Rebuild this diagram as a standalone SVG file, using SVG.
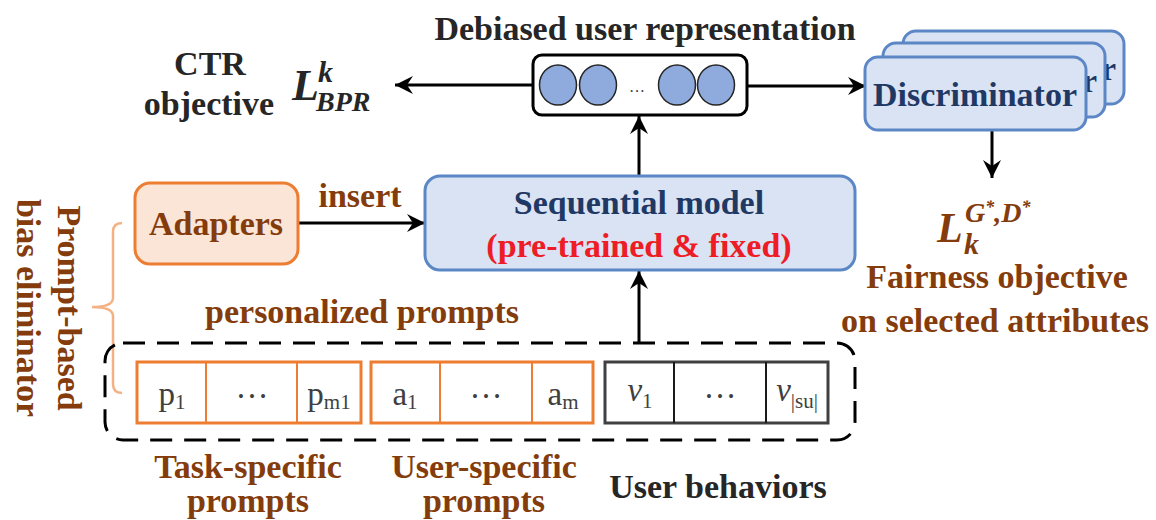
<svg xmlns="http://www.w3.org/2000/svg" width="1156" height="520" viewBox="0 0 1156 520">
  <style>
    text { font-family: "Liberation Serif", "Times New Roman", serif; }
    .b { font-weight: bold; font-size: 34px; }
    .dark { fill: #262626; }
    .brown { fill: #843c0c; }
    .navy { fill: #1f3864; }
    .red { fill: #ee1c25; }
    .mid { text-anchor: middle; }
    .bluebox { fill: #dae3f3; stroke: #5b87c6; stroke-width: 3; }
    .orangebox { fill: #fbe5d6; stroke: #ed7d31; stroke-width: 3; }
    .conn { stroke: #000; stroke-width: 3; fill: none; marker-end: url(#arrow); }
    .cellO { fill: #fff; stroke: #ed7d31; stroke-width: 3; }
    .divO { stroke: #ed7d31; stroke-width: 2; }
    .cellK { fill: #fff; stroke: #404040; stroke-width: 3; }
    .divK { stroke: #1a1a1a; stroke-width: 2; }
    .cell { font-size: 33px; fill: #404040; text-anchor: middle; }
    .sub { font-size: 21px; }
    .math { font-weight: bold; font-style: italic; }
  </style>
  <defs>
    <marker id="arrow" markerUnits="userSpaceOnUse" markerWidth="20" markerHeight="20" refX="18" refY="10" orient="auto">
      <path d="M0,1 L18,10 L0,19 L6,10 Z" fill="#000"/>
    </marker>
  </defs>

  <!-- connectors -->
  <g id="connectors">
    <line class="conn" x1="533" y1="85" x2="395" y2="85"/>
    <line class="conn" x1="747" y1="86" x2="866" y2="86"/>
    <line class="conn" x1="639" y1="176" x2="639" y2="116"/>
    <line class="conn" x1="639" y1="343" x2="639" y2="271"/>
    <line class="conn" x1="298" y1="223" x2="425" y2="223"/>
    <line class="conn" x1="992" y1="130" x2="992" y2="178"/>
  </g>

  <!-- debiased user representation -->
  <g id="representation">
    <text class="b dark mid" x="645" y="40">Debiased user representation</text>
    <rect x="533" y="55" width="214" height="60" rx="9" fill="#fff" stroke="#000" stroke-width="3"/>
    <g fill="#8faadc" stroke="#262626" stroke-width="1.5">
      <ellipse cx="558" cy="85" rx="18.5" ry="20"/>
      <ellipse cx="598" cy="85" rx="18.5" ry="20"/>
      <ellipse cx="677" cy="85" rx="18.5" ry="20"/>
      <ellipse cx="716" cy="85" rx="18.5" ry="20"/>
    </g>
    <text x="637" y="92" font-size="16" fill="#404040" text-anchor="middle">…</text>
  </g>

  <!-- CTR objective -->
  <g id="ctr-objective">
    <text class="b dark mid" x="210" y="75">CTR</text>
    <text class="b dark mid" x="209" y="115">objective</text>
    <text class="math dark" font-size="44"><tspan x="292" y="100">L</tspan><tspan x="318" y="82" font-size="30">k</tspan><tspan x="316" y="111" font-size="28">BPR</tspan></text>
  </g>

  <!-- discriminators (stacked; only the last letter of the rear labels shows) -->
  <g id="discriminator">
    <rect class="bluebox" x="903" y="31" width="221" height="73" rx="13"/>
    <text class="b navy" x="1116" y="80" text-anchor="end">r</text>
    <rect class="bluebox" x="883" y="43" width="222" height="74" rx="13"/>
    <text class="b navy" x="1097" y="92" text-anchor="end">r</text>
    <rect class="bluebox" x="865" y="57" width="221" height="73" rx="13"/>
    <text class="b navy mid" x="975" y="106">Discriminator</text>
  </g>

  <!-- fairness objective -->
  <g id="fairness-objective">
    <text class="math brown" font-size="42"><tspan x="937" y="242">L</tspan><tspan x="965" y="222" font-size="28">G</tspan><tspan font-size="18" dy="-9">*</tspan><tspan font-size="28" dy="9">,D</tspan><tspan font-size="18" dy="-9">*</tspan><tspan x="964" y="254" font-size="30">k</tspan></text>
    <text class="b brown mid" x="997" y="288">Fairness objective</text>
    <text class="b brown mid" x="995" y="332">on selected attributes</text>
  </g>

  <!-- sequential model -->
  <g id="sequential-model">
    <rect class="bluebox" x="425" y="176" width="430" height="94" rx="15"/>
    <text class="b navy mid" x="639" y="214">Sequential model</text>
    <text class="b red mid" x="639" y="257">(pre-trained &amp; fixed)</text>
  </g>

  <!-- adapters -->
  <g id="adapters">
    <rect class="orangebox" x="135" y="183" width="163" height="81" rx="15"/>
    <text class="b brown mid" x="216" y="235">Adapters</text>
    <text class="b brown mid" x="360" y="207">insert</text>
  </g>

  <!-- prompt-based bias eliminator brace and label -->
  <g id="bias-eliminator">
    <path d="M122,223 Q113,223 113,232 L113,298 Q113,307 92,307 Q113,307 113,316 L113,384 Q113,393 122,393" fill="none" stroke="#f4b183" stroke-width="2.5"/>
    <g transform="translate(0,308) rotate(90)">
      <text class="b brown mid" x="0" y="-58">Prompt-based</text>
      <text class="b brown mid" x="0" y="-17">bias eliminator</text>
    </g>
  </g>

  <!-- input sequence -->
  <g id="input-sequence">
    <text class="b brown mid" x="362" y="323">personalized prompts</text>
    <rect x="105" y="343" width="750" height="97" rx="18" fill="none" stroke="#000" stroke-width="3" stroke-dasharray="22 12"/>

    <g id="task-prompts">
      <rect class="cellO" x="137" y="362" width="224" height="61"/>
      <line class="divO" x1="206" y1="362" x2="206" y2="423"/>
      <line class="divO" x1="297" y1="362" x2="297" y2="423"/>
      <text class="cell" x="172" y="405">p<tspan class="sub" dy="4">1</tspan></text>
      <text class="cell" x="252" y="398">…</text>
      <text class="cell" x="329" y="405">p<tspan class="sub" dy="4">m1</tspan></text>
    </g>

    <g id="user-prompts">
      <rect class="cellO" x="371" y="362" width="222" height="61"/>
      <line class="divO" x1="440" y1="362" x2="440" y2="423"/>
      <line class="divO" x1="532" y1="362" x2="532" y2="423"/>
      <text class="cell" x="405" y="405">a<tspan class="sub" dy="4">1</tspan></text>
      <text class="cell" x="486" y="398">…</text>
      <text class="cell" x="563" y="405">a<tspan class="sub" dy="4">m</tspan></text>
    </g>

    <g id="user-behaviors">
      <rect class="cellK" x="605" y="362" width="223" height="61"/>
      <line class="divK" x1="674" y1="362" x2="674" y2="423"/>
      <line class="divK" x1="766" y1="362" x2="766" y2="423"/>
      <text class="cell" x="640" y="401"><tspan font-style="italic">v</tspan><tspan class="sub" dy="7">1</tspan></text>
      <text class="cell" x="720" y="398">…</text>
      <text class="cell" x="797" y="401"><tspan font-style="italic">v</tspan><tspan class="sub" dy="7">|su|</tspan></text>
    </g>

    <text class="b brown mid" x="248" y="478">Task-specific</text>
    <text class="b brown mid" x="248" y="512">prompts</text>
    <text class="b brown mid" x="484" y="478">User-specific</text>
    <text class="b brown mid" x="484" y="512">prompts</text>
    <text class="b dark mid" x="718" y="498">User behaviors</text>
  </g>
</svg>
